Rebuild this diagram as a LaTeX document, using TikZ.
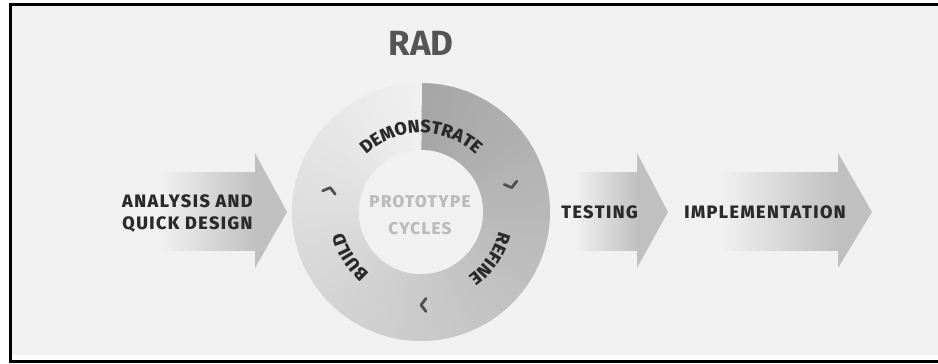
\documentclass[tikz,border=0pt]{standalone}
\usepackage{fontspec}
\setmainfont{Fira Sans}
\newfontfamily\heavyfont[LetterSpace=4]{Fira Sans ExtraBold}
\newfontfamily\widefont[LetterSpace=8]{Fira Sans ExtraBold}
\usetikzlibrary{decorations.text}

\definecolor{panel}{HTML}{F1F1F1}
\definecolor{labeltxt}{HTML}{2A2A2A}
\definecolor{titletxt}{HTML}{555555}
\definecolor{coretxt}{HTML}{BBBBBB}
\definecolor{arrowgray}{HTML}{C0C0C0}
\definecolor{chev}{HTML}{505050}

% font used for the words running round the ring
\newcommand\ringfont{\heavyfont\fontsize{18}{18}\selectfont\color{labeltxt}}

\begin{document}
\begin{tikzpicture}[x=1pt,y=1pt,
  phase/.style={font=\widefont\fontsize{18}{22}\selectfont, text=labeltxt,
    inner sep=0pt, align=center},
  core/.style={font=\widefont\fontsize{17}{17}\selectfont, text=coretxt, inner sep=0pt},
  title/.style={font=\fontsize{35}{35}\selectfont\bfseries, text=titletxt, inner sep=0pt},
  shaft/.style={left color=panel, right color=arrowgray},
  arrowhead/.style={fill=arrowgray},
  ringword/.style={decorate, decoration={text along path, text align=center, text={#1}}},
  chevronmark/.pic={\draw[chev, line width=2.8pt, line cap=round, line join=round]
    (-5,6.5) -- (0,0) -- (-5,-6.5);}
]
\useasboundingbox (0,0) rectangle (938,364);
\clip (0,0) rectangle (938,364);

% page, panel and frame
\fill[white] (0,0) rectangle (938,364);
\fill[panel] (12,9) rectangle (938,358);
\draw[black, line width=3pt] (960,359.3) -- (10.5,359.3) -- (10.5,2) -- (960,2);

% flow arrows: shaded shaft and solid head
\shade[shaft] (160,113) rectangle (256,191);
\fill[arrowhead] (255,96) -- (287,152) -- (255,211) -- cycle;
\shade[shaft] (575,113) rectangle (638,191);
\fill[arrowhead] (637,96) -- (668,152) -- (637,211) -- cycle;
\shade[shaft] (720,113) rectangle (839,191);
\fill[arrowhead] (838,96) -- (872,152) -- (838,211) -- cycle;

% prototype ring with a sweep from dark (just right of the top) to light
\begin{scope}[shift={(421,152)}]
  \foreach \i in {0,3,...,357} {
    \pgfmathsetmacro\a{90-\i}
    \pgfmathsetmacro\b{90-\i-3.4}
    \pgfmathsetmacro\p{35-29*\i/357}
    \fill[black!\p] (\a:129) arc[start angle=\a, end angle=\b, radius=129]
      -- (\b:62) arc[start angle=\b, end angle=\a, radius=62] -- cycle;
  }
  \fill[panel] (0,0) circle[radius=62];

  % words along the ring, read clockwise
  \path[ringword={|\ringfont|DEMONSTRATE}] (165:79) arc[start angle=165, end angle=15, radius=79];
  \path[ringword={|\ringfont|REFINE}] (30:80) arc[start angle=30, end angle=-98, radius=80];
  \path[ringword={|\ringfont|BUILD}] (-90:80) arc[start angle=-90, end angle=-206, radius=80];

  % direction marks
  \pic[rotate=75] at (165:94) {chevronmark};
  \pic[rotate=-75] at (15:94) {chevronmark};
  \pic[rotate=180] at (-90:93) {chevronmark};

  \node[core] (proto) at (-1,10) {PROTOTYPE};
  \node[core] (cycles) at (-1,-17) {CYCLES};
\end{scope}

% labels
\node[title] (rad) at (421,321) {RAD};
\node[phase] (analysis) at (187.5,150) {ANALYSIS AND\\QUICK DESIGN};
\node[phase] (testing) at (599.5,152) {TESTING};
\node[phase] (impl) at (765,152) {IMPLEMENTATION};
\end{tikzpicture}
\end{document}
